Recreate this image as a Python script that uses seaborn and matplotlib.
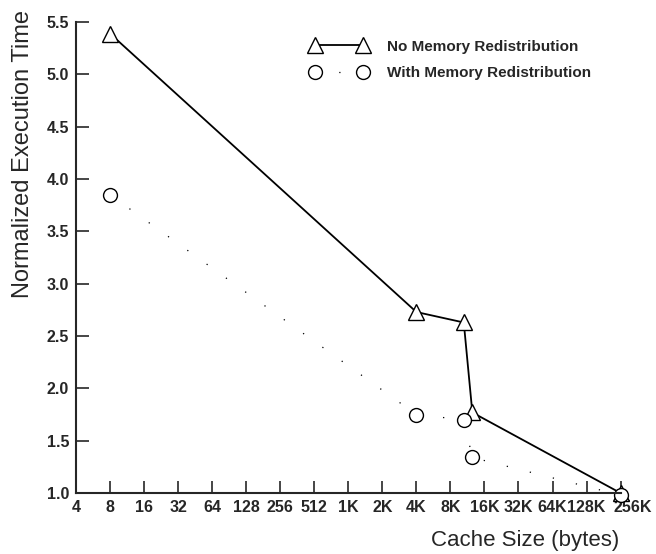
import matplotlib
matplotlib.use("Agg")
import matplotlib.pyplot as plt
import matplotlib.transforms as mtransforms
import pandas as pd
import seaborn as sns

# cache sizes in bytes
no_redist_size = [8, 4096, 10752, 12800, 262144]
no_redist_time = [5.39, 2.73, 2.63, 1.77, 1.0]

with_redist_size = [8, 4096, 10752, 12800, 262144]
with_redist_time = [3.85, 1.75, 1.70, 1.34, 0.98]

tick_values = [4, 8, 16, 32, 64, 128, 256, 512, 1024, 2048, 4096, 8192,
               16384, 32768, 65536, 131072, 262144]
tick_labels = ["4", "8", "16", "32", "64", "128", "256", "512", "1K", "2K", "4K",
               "8K", "16K", "32K", "64K", "128K", "256K"]
y_ticks = [1.0, 1.5, 2.0, 2.5, 3.0, 3.5, 4.0, 4.5, 5.0, 5.5]

sns.set_style("ticks")
plt.rcParams["font.family"] = ["Liberation Sans", "DejaVu Sans"]

df_no = pd.DataFrame({"size": no_redist_size, "time": no_redist_time})
df_with = pd.DataFrame({"size": with_redist_size, "time": with_redist_time})

fig = plt.figure(figsize=(6.56, 5.54), dpi=100)
ax = fig.add_axes([0.116, 0.110, 0.830, 0.850])

sns.lineplot(data=df_no, x="size", y="time", ax=ax, sort=False, color="black",
             lw=1.3, marker="^", markersize=11, markerfacecolor="white",
             markeredgecolor="black", markeredgewidth=1.0,
             label="No Memory Redistribution", clip_on=False)
sns.lineplot(data=df_with, x="size", y="time", ax=ax, sort=False, color="black",
             lw=0.9, linestyle=(0, (1, 18)), marker="o", markersize=10,
             markerfacecolor="white", markeredgecolor="black",
             markeredgewidth=1.0, label="With Memory Redistribution",
             clip_on=False)

ax.set_xscale("log", base=2)
ax.set_xlim(4, 262144)
ax.set_ylim(1.0, 5.5)
ax.set_xticks(tick_values)
ax.set_xticklabels(tick_labels)
ax.minorticks_off()
ax.set_yticks(y_ticks)
ax.set_yticklabels([f"{v:.1f}" for v in y_ticks])
ax.tick_params(direction="in", length=9, width=1.2, pad=5)
for lab in ax.get_xticklabels() + ax.get_yticklabels():
    lab.set_fontweight("bold")
    lab.set_fontsize(11.5)

# the last label sits a bit right of its tick in the original
xlabs = ax.get_xticklabels()
xlabs[-1].set_transform(xlabs[-1].get_transform()
                        + mtransforms.ScaledTranslation(0.12, 0, fig.dpi_scale_trans))

for side in ["top", "right"]:
    ax.spines[side].set_visible(False)
for side in ["left", "bottom"]:
    ax.spines[side].set_linewidth(1.5)

ax.set_xlabel("Cache Size (bytes)", fontsize=16, loc="right")
ax.xaxis.set_label_coords(0.997, -0.078)
ax.set_ylabel("Normalized Execution Time", fontsize=17)
ax.yaxis.set_label_coords(-0.0765, 0.72)

ax.legend(loc="upper left", bbox_to_anchor=(0.4055, 0.992), frameon=False,
          numpoints=2, handlelength=3.75, labelspacing=0.8,
          handletextpad=1.27, prop={"size": 11, "weight": "bold"})

fig.savefig("out.png", dpi=100)
